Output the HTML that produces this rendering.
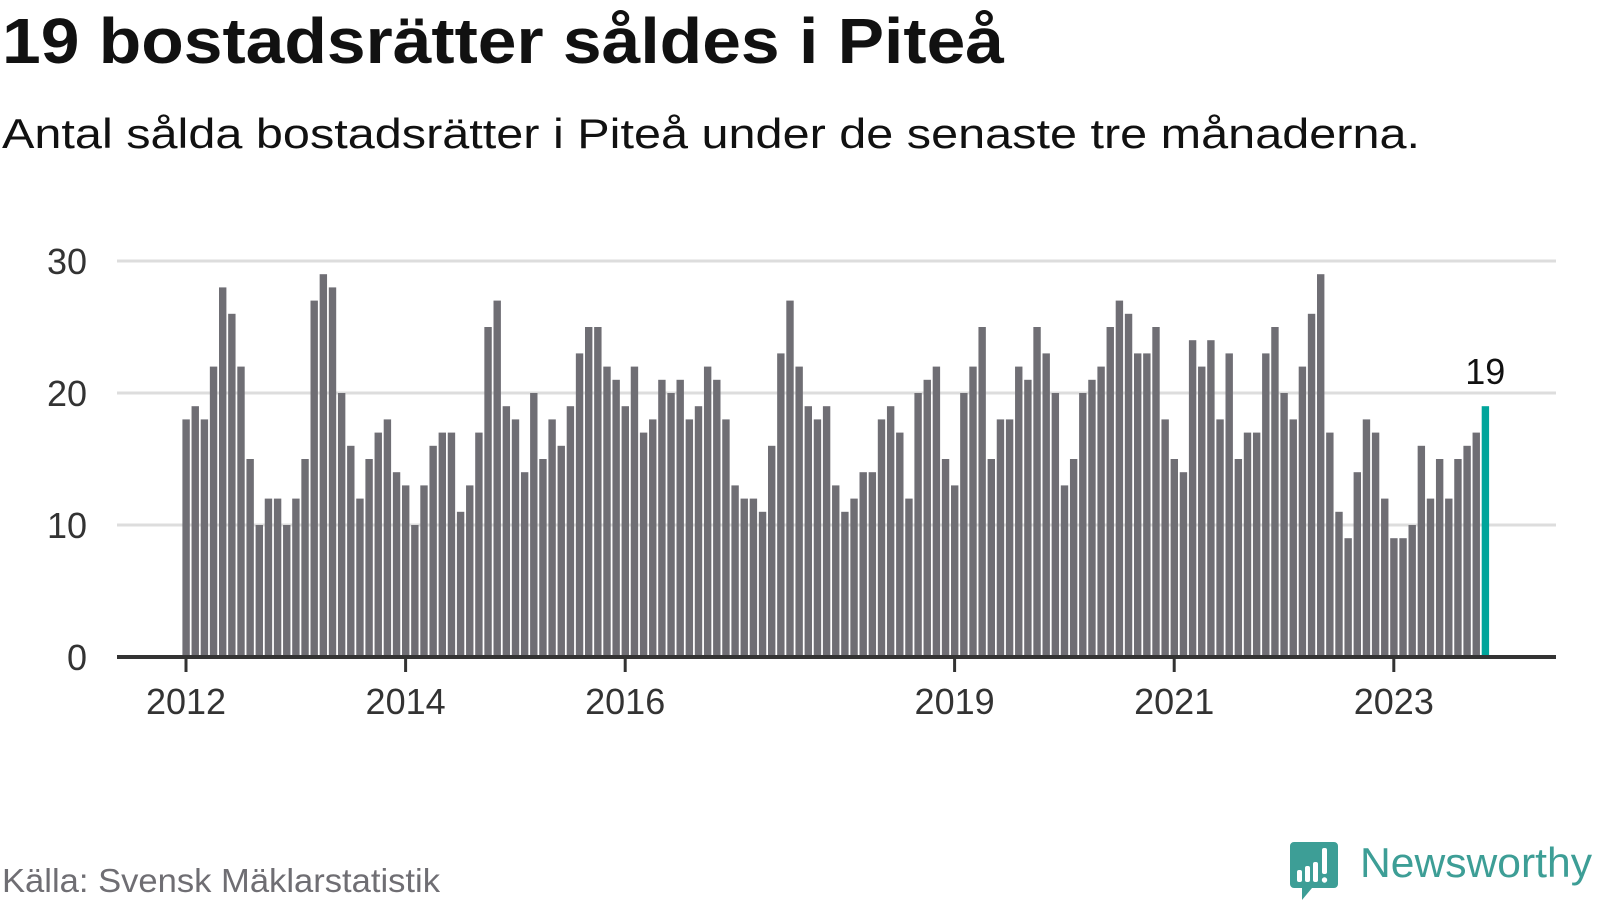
<!DOCTYPE html>
<html><head><meta charset="utf-8"><style>
html,body{margin:0;padding:0;background:#fff;}
svg{display:block;font-family:"Liberation Sans","DejaVu Sans",sans-serif;}
</style></head><body>
<svg id="chart" width="1600" height="900" viewBox="0 0 1600 900" xmlns="http://www.w3.org/2000/svg">
<text x="2" y="63" font-size="64" font-weight="bold" fill="#111" textLength="1002" lengthAdjust="spacingAndGlyphs">19 bostadsrätter såldes i Piteå</text>
<text x="2" y="148" font-size="42" fill="#111" textLength="1418" lengthAdjust="spacingAndGlyphs">Antal sålda bostadsrätter i Piteå under de senaste tre månaderna.</text>
<g id="grid"></g>
<g id="bars"></g>
<g id="axes"></g>
<text x="2" y="892" font-size="33" fill="#6f6e73" textLength="438" lengthAdjust="spacingAndGlyphs">Källa: Svensk Mäklarstatistik</text>
<g>
<path d="M1294 842 h40 a4 4 0 0 1 4 4 v38 a4 4 0 0 1 -4 4 h-22 l-10 12 v-12 h-8 a4 4 0 0 1 -4 -4 v-38 a4 4 0 0 1 4 -4z" fill="#3d9e96"/>
<rect x="1297" y="870" width="5" height="12" rx="2" fill="#fff"/>
<rect x="1305" y="866" width="5" height="16" rx="2" fill="#fff"/>
<rect x="1313" y="862" width="5" height="20" rx="2" fill="#fff"/>
<rect x="1322" y="848" width="5" height="26" rx="2" fill="#fff"/>
<circle cx="1324.5" cy="880" r="2.7" fill="#fff"/>
<text x="1360" y="877" font-size="42" fill="#3d9e96" textLength="232" lengthAdjust="spacingAndGlyphs">Newsworthy</text>
</g>
</svg>
<script>
const values = [
18,19,18,22,28,26,22,15,10,12,12,10,
12,15,27,29,28,20,16,12,15,17,18,14,
13,10,13,16,17,17,11,13,17,25,27,19,
18,14,20,15,18,16,19,23,25,25,22,21,
19,22,17,18,21,20,21,18,19,22,21,18,
13,12,12,11,16,23,27,22,19,18,19,13,
11,12,14,14,18,19,17,12,20,21,22,15,
13,20,22,25,15,18,18,22,21,25,23,20,
13,15,20,21,22,25,27,26,23,23,25,18,
15,14,24,22,24,18,23,15,17,17,23,25,
20,18,22,26,29,17,11,9,14,18,17,12,
9,9,10,16,12,15,12,15,16,17,19];
const yTicks = [0,10,20,30];
const xTickYears = [2012,2014,2016,2019,2021,2023];
const startYear = 2012;

const NS = "http://www.w3.org/2000/svg";
const y0 = 657, pxPerUnit = 13.2;
const x0 = 186, pxPerMonth = 9.15;
const yScale = v => y0 - v * pxPerUnit;
const xScale = i => x0 + i * pxPerMonth;
function mk(tag, attrs, parent){ const e=document.createElementNS(NS,tag); for(const k in attrs) e.setAttribute(k,attrs[k]); parent.appendChild(e); return e; }

const grid = document.getElementById('grid');
yTicks.forEach(t=>{
  if(t>0){
    const l = mk('line',{x1:117,x2:1556,y1:yScale(t),y2:yScale(t),stroke:'#dddddd','stroke-width':3},grid);
    
    
  }
  const tx = mk('text',{x:87,y:yScale(t)+13,'font-size':36,fill:'#333','text-anchor':'end'},grid);
  tx.textContent = t;
  
  
});

const bars = document.getElementById('bars');
values.forEach((v,i)=>{
  const last = i === values.length-1;
  const r = mk('rect',{x:xScale(i)-3.6,y:yScale(v),width:7.4,height:v*pxPerUnit,fill:last?'#00a59b':'#6f6e74'},bars);
  
  
});
const li = values.length-1;
const lbl = mk('text',{x:xScale(li),y:yScale(values[li])-22,'font-size':36,fill:'#111','text-anchor':'middle'},bars);
lbl.textContent = values[li];



const axes = document.getElementById('axes');
const ax = mk('line',{x1:117,x2:1556,y1:y0,y2:y0,stroke:'#333','stroke-width':4},axes);


xTickYears.forEach(yr=>{
  const x = xScale((yr-startYear)*12);
  const t = mk('line',{x1:x,x2:x,y1:y0,y2:y0+15,stroke:'#333','stroke-width':3},axes);
  
  
  const tx = mk('text',{x:x,y:714,'font-size':36,fill:'#333','text-anchor':'middle'},axes);
  tx.textContent = yr;
  
  
});
</script>
</body></html>
